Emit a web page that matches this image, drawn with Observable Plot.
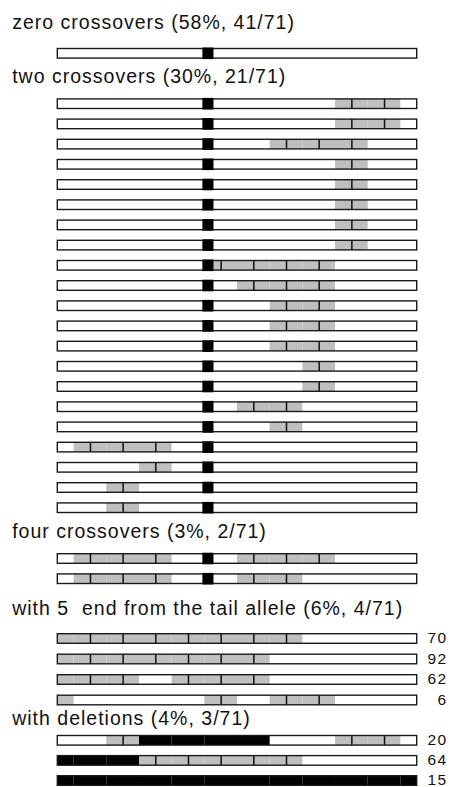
<!DOCTYPE html>
<html><head><meta charset="utf-8">
<script src="https://cdn.jsdelivr.net/npm/d3@7"></script>
<script src="https://cdn.jsdelivr.net/npm/@observablehq/plot@0.6"></script>
<style>
body{margin:0;background:#fff;overflow:hidden;}
#chart svg{overflow:visible;}
</style>
</head><body><div id="chart"></div>
<script>
// Section titles
const sectionTitles = [
  "zero crossovers (58%, 41/71)",
  "two crossovers (30%, 21/71)",
  "four crossovers (3%, 2/71)",
  "with 5\u00a0\u00a0end from the tail allele (6%, 4/71)",
  "with deletions (4%, 3/71)"
];
// Genotype at markers 0..11: "." = other allele (white), "g" = tail allele (grey), "b" = deleted (black)
const zeroRows = ["............"];
const twoRows = [
  ".........gg.",
  ".........gg.",
  ".......ggg..",
  ".........g..",
  ".........g..",
  ".........g..",
  ".........g..",
  ".........g..",
  ".....gggg...",
  "......ggg...",
  ".......gg...",
  ".......gg...",
  ".......gg...",
  "........g...",
  "........g...",
  "......gg....",
  ".......g....",
  ".ggg........",
  "...g........",
  "..g.........",
  "..g........."
];
const fourRows = [".ggg..ggg...", ".ggg..gg...."];
const tailRows = ["gggggggg....", "ggggggg.....", "ggg.ggg.....", "g....g.gg..."];
const deletionRows = ["..gbbbb..gg.", "bbbggggg....", "bbbbbbbbbbbb"];
const tailLabels = ["70", "92", "62", "6"];
const deletionLabels = ["20", "64", "15"];
const hasCentromere = [true, true, true, false, false];
const centromere = [4.44, 4.78]; // marker units
const chromosomeEnd = 11;

// layout (pixels), not data
const layout = [
  {titleY: 28, rowY: 53.3, step: 20.2},
  {titleY: 82, rowY: 103.7, step: 20.2},
  {titleY: 537, rowY: 558.5, step: 20.2},
  {titleY: 614, rowY: 638.5, step: 20.5},
  {titleY: 724, rowY: 740.3, step: 20.1}
];
const hh = 4.8;

const sections = [zeroRows, twoRows, fourRows, tailRows, deletionRows];
const sectionLabels = [[], [], [], tailLabels, deletionLabels];

const titles = [], bars = [], grey = [], black = [], ticks = [], cents = [], labels = [];
sections.forEach((rows, s) => {
  titles.push({y: layout[s].titleY, text: sectionTitles[s]});
  rows.forEach((row, r) => {
    const y = layout[s].rowY + r * layout[s].step;
    bars.push({y});
    [...row].forEach((c, m) => {
      const x1 = Math.max(0, m - 0.5), x2 = Math.min(chromosomeEnd, m + 0.5);
      if (c === "g") {
        grey.push({x1, x2, y});
        if (m >= 1 && m <= chromosomeEnd - 1) ticks.push({x: m, y});
      } else if (c === "b") {
        black.push({x1, x2, y});
      }
    });
    if (hasCentromere[s]) cents.push({y});
    if (sectionLabels[s][r] !== undefined) labels.push({y, text: sectionLabels[s][r]});
  });
});

const chart = Plot.plot({
  width: 454,
  height: 787,
  marginLeft: 57.3,
  marginRight: 37.3,
  marginTop: 0,
  marginBottom: 0,
  x: {domain: [0, chromosomeEnd], axis: null},
  y: {domain: [0, 787], range: [0, 787], axis: null},
  style: {fontFamily: "'Liberation Sans', Arial, sans-serif", background: "white"},
  marks: [
    Plot.rect(bars, {x1: () => 0, x2: () => chromosomeEnd, y1: d => d.y - hh, y2: d => d.y + hh, fill: "white"}),
    Plot.rect(grey, {x1: "x1", x2: "x2", y1: d => d.y - hh, y2: d => d.y + hh, fill: "#bfbfbf"}),
    Plot.rect(black, {x1: "x1", x2: "x2", y1: d => d.y - hh, y2: d => d.y + hh, fill: "black"}),
    Plot.ruleX(ticks, {x: "x", y1: d => d.y - hh, y2: d => d.y + hh, stroke: "#111", strokeWidth: 1.5}),
    Plot.rect(bars, {x1: () => 0, x2: () => chromosomeEnd, y1: d => d.y - hh, y2: d => d.y + hh, fill: "none", stroke: "#1a1a1a", strokeWidth: 1.4}),
    Plot.rect(cents, {x1: () => centromere[0], x2: () => centromere[1], y1: d => d.y - hh - 1, y2: d => d.y + hh + 1, fill: "black"}),
    Plot.text(titles, {x: () => 0, y: "y", text: "text", textAnchor: "start", lineAnchor: "bottom", dx: -45.6, fontSize: 19.5, fill: "#111"}),
    Plot.text(labels, {x: () => chromosomeEnd, y: "y", text: "text", textAnchor: "end", dx: 30.5, dy: -0.5, fontSize: 15.5, fill: "#111"})
  ]
});
const textGroups = chart.querySelectorAll('g[aria-label="text"]');
if (textGroups[0]) textGroups[0].style.letterSpacing = "1px";
if (textGroups[1]) textGroups[1].style.letterSpacing = "1.5px";
document.getElementById("chart").appendChild(chart);
</script>
</body></html>
